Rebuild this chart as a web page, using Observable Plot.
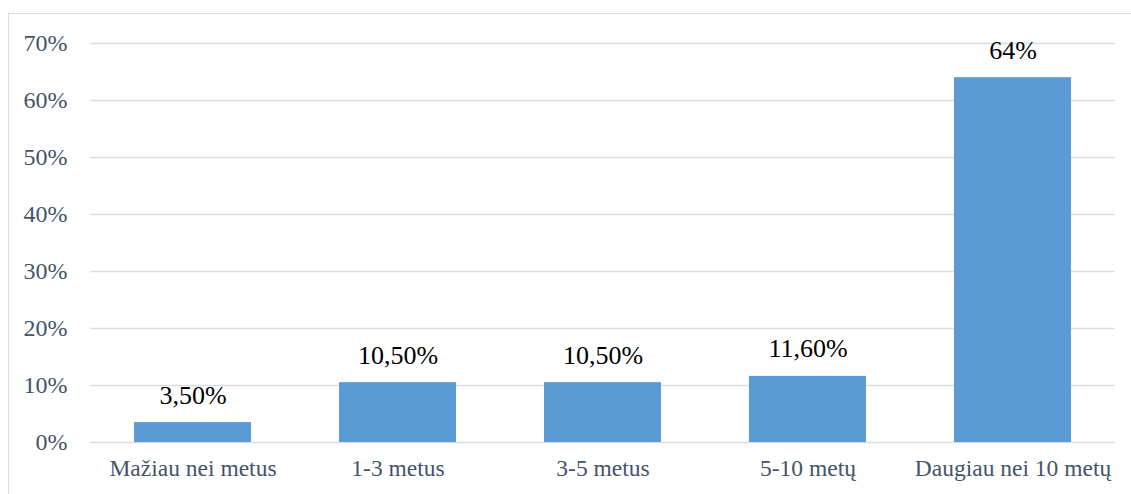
<!DOCTYPE html>
<html>
<head>
<meta charset="utf-8">
<script src="https://cdn.jsdelivr.net/npm/d3@7"></script>
<script src="https://cdn.jsdelivr.net/npm/@observablehq/plot@0.6"></script>
<style>
  html, body { margin: 0; padding: 0; background: #fff; overflow: hidden; }
  #wrap { position: relative; width: 1131px; height: 494px; }
  #border { position: absolute; left: 8px; top: 13px; width: 1200px; height: 600px; border: 1px solid #d9dde3; box-sizing: border-box; pointer-events: none; }
  svg { position: absolute; left: 0; top: 0; }
  svg text { font-family: "Liberation Serif", "Times New Roman", serif !important; }
</style>
</head>
<body>
<div id="wrap"><div id="border"></div></div>
<script>
const categories = ["Mažiau nei metus", "1-3 metus", "3-5 metus", "5-10 metų", "Daugiau nei 10 metų"];
const values = [0.035, 0.105, 0.105, 0.116, 0.64];
const valueLabels = ["3,50%", "10,50%", "10,50%", "11,60%", "64%"];
const yTicks = [0, 0.1, 0.2, 0.3, 0.4, 0.5, 0.6, 0.7];

const data = categories.map((c, i) => ({category: c, value: values[i], label: valueLabels[i]}));
const serif = "'Liberation Serif', 'Times New Roman', serif";

const chart = Plot.plot({
  width: 1131,
  height: 494,
  marginLeft: 90,
  marginRight: 16,
  marginTop: 43,
  marginBottom: 52,
  style: {fontFamily: serif, background: "transparent"},
  x: {domain: categories, paddingInner: 0.43, paddingOuter: 0.215, label: null},
  y: {domain: [0, 0.7], label: null},
  marks: [
    Plot.gridY(yTicks, {stroke: "#d9dde3", strokeOpacity: 1, strokeWidth: 1.5}),
    Plot.barY(data, {x: "category", y: "value", fill: "#5b9bd5"}),
    Plot.text(data, {x: "category", y: "value", text: "label", dy: -19, lineAnchor: "bottom", fontSize: 26, fill: "#000", fontFamily: serif}),
    Plot.axisX({tickSize: 0, tickPadding: 17, fontSize: 23.5, color: "#44546a", label: null, fontFamily: serif}),
    Plot.axisY({ticks: yTicks, tickFormat: d => Math.round(d * 100) + "%", tickSize: 0, tickPadding: 23, fontSize: 24, color: "#44546a", label: null, fontFamily: serif})
  ]
});
document.getElementById("wrap").appendChild(chart);
</script>
</body>
</html>
